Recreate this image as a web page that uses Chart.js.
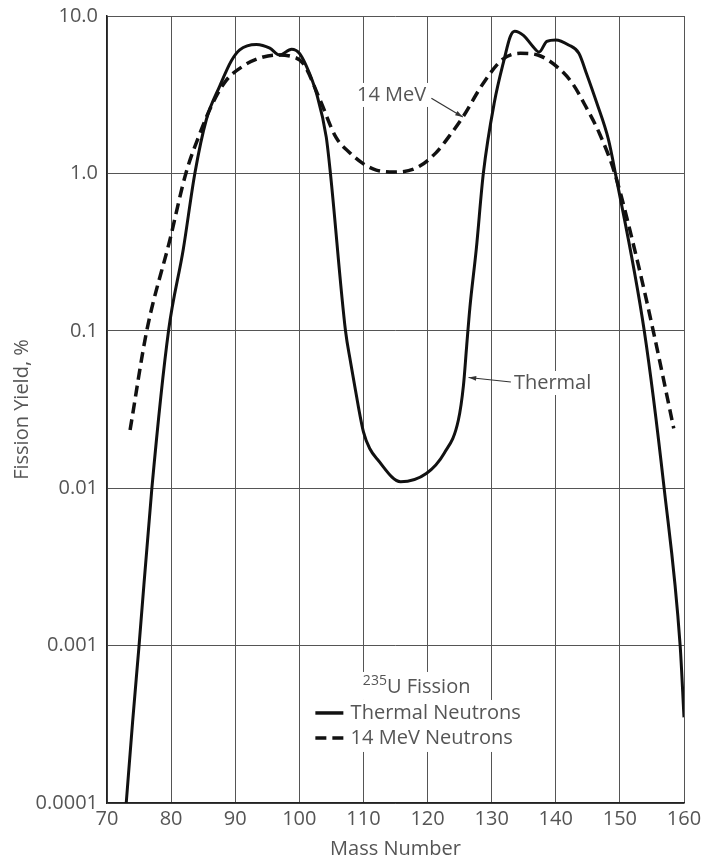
<!DOCTYPE html>
<html>
<head>
<meta charset="utf-8">
<title>235U Fission Yield</title>
<script src="https://cdn.jsdelivr.net/npm/chart.js@4.4.0/dist/chart.umd.min.js"></script>
<style>
    html, body { margin: 0; padding: 0; background: #fff; }
    #contenedor { width: 702px; height: 861px; }
</style>
</head>
<body>
<div id="contenedor"><canvas id="grafico" width="702" height="861"></canvas></div>
<script>

//Thermal neutrons (solid curve)
var thermalMass = [73.0, 74.0, 75.0, 77.0, 79.6, 81.9, 83.7, 85.5, 87.6, 89.4, 90.7, 93.3, 95.4, 96.9, 98.8, 100.0,
    101.1, 102.7, 104.2, 104.85, 107.2, 108.0, 108.75, 110.0, 111.0, 112.2, 115.8, 119.8, 122.6, 124.8, 125.6,
    126.1, 126.6, 127.6, 128.7, 130.4, 132.0, 132.9, 133.6, 135.0, 136.3, 137.4, 138.6, 140.0, 142.0, 143.6,
    144.8, 146.4, 148.2, 149.3, 153.8, 156.9, 159.4, 160.0];
var thermalYield = [0.0001, 0.00033, 0.001, 0.01, 0.1, 0.33, 1.0, 2.2, 3.6, 5.2, 6.1, 6.6, 6.25, 5.65, 6.15, 5.8,
    4.8, 3.2, 1.7, 1.0, 0.1, 0.063, 0.042, 0.0228, 0.0178, 0.0152, 0.011, 0.0124, 0.0167, 0.027, 0.045,
    0.08, 0.14, 0.33, 1.0, 2.8, 5.4, 7.4, 8.0, 7.5, 6.5, 5.9, 6.9, 7.05, 6.55, 5.8,
    4.3, 2.8, 1.65, 1.0, 0.1, 0.01, 0.001, 0.00035];

//14 MeV neutrons (dashed curve)
var fastMass = [73.6, 76.2, 79.8, 82.3, 84.5, 86.5, 88.6, 91.2, 93.8, 96.4, 99.0, 100.6, 103.2, 105.7, 107.9,
    110.0, 112.0, 114.8, 118.2, 121.3, 123.5, 125.5, 128.8, 131.7, 134.5, 137.2, 140.5, 142.6, 144.7, 146.8,
    149.2, 152.8, 155.2, 158.4];
var fastYield = [0.0234, 0.1, 0.377, 1.0, 1.8, 2.8, 3.9, 4.8, 5.4, 5.65, 5.5, 5.0, 2.95, 1.7, 1.35,
    1.15, 1.05, 1.02, 1.08, 1.35, 1.75, 2.28, 3.8, 5.3, 5.8, 5.65, 4.64, 3.73, 2.65, 1.8,
    1.0, 0.27, 0.1, 0.024];

var xTicks = [70, 80, 90, 100, 110, 120, 130, 140, 150, 160];
var yTicks = [0.0001, 0.001, 0.01, 0.1, 1, 10];
var yTickLabels = ['0.0001', '0.001', '0.01', '0.1', '1.0', '10.0'];

var fuente = '"Open Sans", "DejaVu Sans", sans-serif';
var grisTexto = '#555';

function puntos(masas, valores) {
    return masas.map(function (m, i) { return { x: m, y: valores[i] }; });
}

//Texto con fondo blanco (tapa la grilla como en el original)
function textoConFondo(ctx, texto, cx, cy) {
    var ancho = ctx.measureText(texto).width;
    ctx.fillStyle = '#fff';
    ctx.fillRect(cx - ancho / 2 - 4, cy - 12, ancho + 8, 24);
    ctx.fillStyle = grisTexto;
    ctx.fillText(texto, cx, cy);
}

function flecha(ctx, x1, y1, x2, y2) {
    var ang = Math.atan2(y2 - y1, x2 - x1);
    ctx.strokeStyle = '#333';
    ctx.fillStyle = '#333';
    ctx.lineWidth = 1.2;
    ctx.beginPath();
    ctx.moveTo(x1, y1);
    ctx.lineTo(x2, y2);
    ctx.stroke();
    ctx.beginPath();
    ctx.moveTo(x2, y2);
    ctx.lineTo(x2 - 8 * Math.cos(ang - 0.3), y2 - 8 * Math.sin(ang - 0.3));
    ctx.lineTo(x2 - 8 * Math.cos(ang + 0.3), y2 - 8 * Math.sin(ang + 0.3));
    ctx.closePath();
    ctx.fill();
}

var notas = {
    id: 'notas',
    afterDraw: function (chart) {
        var ctx = chart.ctx;
        var sx = chart.scales.x;
        var sy = chart.scales.y;
        ctx.save();
        ctx.font = '20px ' + fuente;
        ctx.textAlign = 'center';
        ctx.textBaseline = 'middle';

        //14 MeV
        textoConFondo(ctx, '14 MeV', sx.getPixelForValue(114.4), sy.getPixelForValue(3.15));
        flecha(ctx, sx.getPixelForValue(120.6), sy.getPixelForValue(3.0),
            sx.getPixelForValue(125.5), sy.getPixelForValue(2.28));

        //Thermal
        textoConFondo(ctx, 'Thermal', sx.getPixelForValue(139.5), sy.getPixelForValue(0.0466));
        flecha(ctx, sx.getPixelForValue(133.0), sy.getPixelForValue(0.0473),
            sx.getPixelForValue(126.4), sy.getPixelForValue(0.0505));

        //Leyenda
        var cx = sx.getPixelForValue(118.3);
        var ty = sy.getPixelForValue(0.000546);
        var lx = sx.getPixelForValue(102.5);
        var tx = sx.getPixelForValue(108.0);
        var fila1 = ty + 26;
        var fila2 = ty + 51;

        ctx.fillStyle = '#fff';
        ctx.fillRect(cx - 60, ty - 15, 120, 28);
        ctx.fillRect(lx - 5, fila1 - 13, 220, 52);

        //titulo con superindice
        ctx.textAlign = 'left';
        ctx.font = '20px ' + fuente;
        var anchoU = ctx.measureText('U Fission').width;
        ctx.font = '14px ' + fuente;
        var anchoSup = ctx.measureText('235').width;
        var x0 = cx - (anchoU + anchoSup) / 2;
        ctx.fillStyle = grisTexto;
        ctx.fillText('235', x0, ty - 6);
        ctx.font = '20px ' + fuente;
        ctx.fillText('U Fission', x0 + anchoSup, ty);

        ctx.fillText('Thermal Neutrons', tx, fila1);
        ctx.fillText('14 MeV Neutrons', tx, fila2);

        ctx.strokeStyle = '#111';
        ctx.lineWidth = 3.5;
        ctx.beginPath();
        ctx.moveTo(lx, fila1);
        ctx.lineTo(lx + 28, fila1);
        ctx.stroke();
        ctx.setLineDash([11, 6]);
        ctx.beginPath();
        ctx.moveTo(lx, fila2);
        ctx.lineTo(lx + 28, fila2);
        ctx.stroke();
        ctx.restore();
    }
};

var ctx = document.getElementById('grafico').getContext('2d');

var grafico = new Chart(ctx, {
    type: 'line',
    data: {
        datasets: [{
            label: 'Thermal Neutrons',
            data: puntos(thermalMass, thermalYield),
            borderColor: '#111',
            borderWidth: 3,
            pointRadius: 0,
            cubicInterpolationMode: 'monotone',
            fill: false
        }, {
            label: '14 MeV Neutrons',
            data: puntos(fastMass, fastYield),
            borderColor: '#111',
            borderWidth: 3.5,
            borderDash: [11, 6],
            pointRadius: 0,
            cubicInterpolationMode: 'monotone',
            fill: false
        }]
    },
    options: {
        responsive: false,
        animation: false,
        layout: {
            padding: { top: 16, right: 18, left: 0, bottom: 0 }
        },
        plugins: {
            legend: { display: false },
            tooltip: { enabled: false }
        },
        scales: {
            x: {
                type: 'linear',
                min: 70,
                max: 160,
                afterBuildTicks: function (scale) {
                    scale.ticks = xTicks.map(function (v) { return { value: v }; });
                },
                //alto fijo y sin margen extra por las etiquetas de los extremos
                afterFit: function (scale) {
                    scale.height = 58;
                    scale.paddingLeft = 0;
                    scale.paddingRight = 0;
                },
                grid: { color: '#555', lineWidth: 1, drawTicks: false },
                border: { color: '#222', width: 1.5 },
                ticks: {
                    padding: 4,
                    color: grisTexto,
                    font: { family: fuente, size: 20 },
                    maxRotation: 0
                },
                title: {
                    display: true,
                    text: 'Mass Number',
                    color: grisTexto,
                    font: { family: fuente, size: 20 },
                    padding: { top: 0, bottom: 0 }
                }
            },
            y: {
                type: 'logarithmic',
                min: 0.0001,
                max: 10,
                afterBuildTicks: function (scale) {
                    scale.ticks = yTicks.map(function (v) { return { value: v }; });
                },
                afterFit: function (scale) {
                    scale.width = 107;
                    scale.paddingTop = 0;
                    scale.paddingBottom = 0;
                },
                grid: { color: '#555', lineWidth: 1, drawTicks: false },
                border: { color: '#222', width: 1.5 },
                ticks: {
                    padding: 9,
                    autoSkip: false,
                    color: grisTexto,
                    font: { family: fuente, size: 20 },
                    callback: function (value, index) {
                        return yTickLabels[index];
                    }
                },
                title: {
                    display: true,
                    text: 'Fission Yield, %',
                    color: grisTexto,
                    font: { family: fuente, size: 20 },
                    padding: { top: 10, bottom: 0 }
                }
            }
        }
    },
    plugins: [notas]
});
</script>
</body>
</html>
